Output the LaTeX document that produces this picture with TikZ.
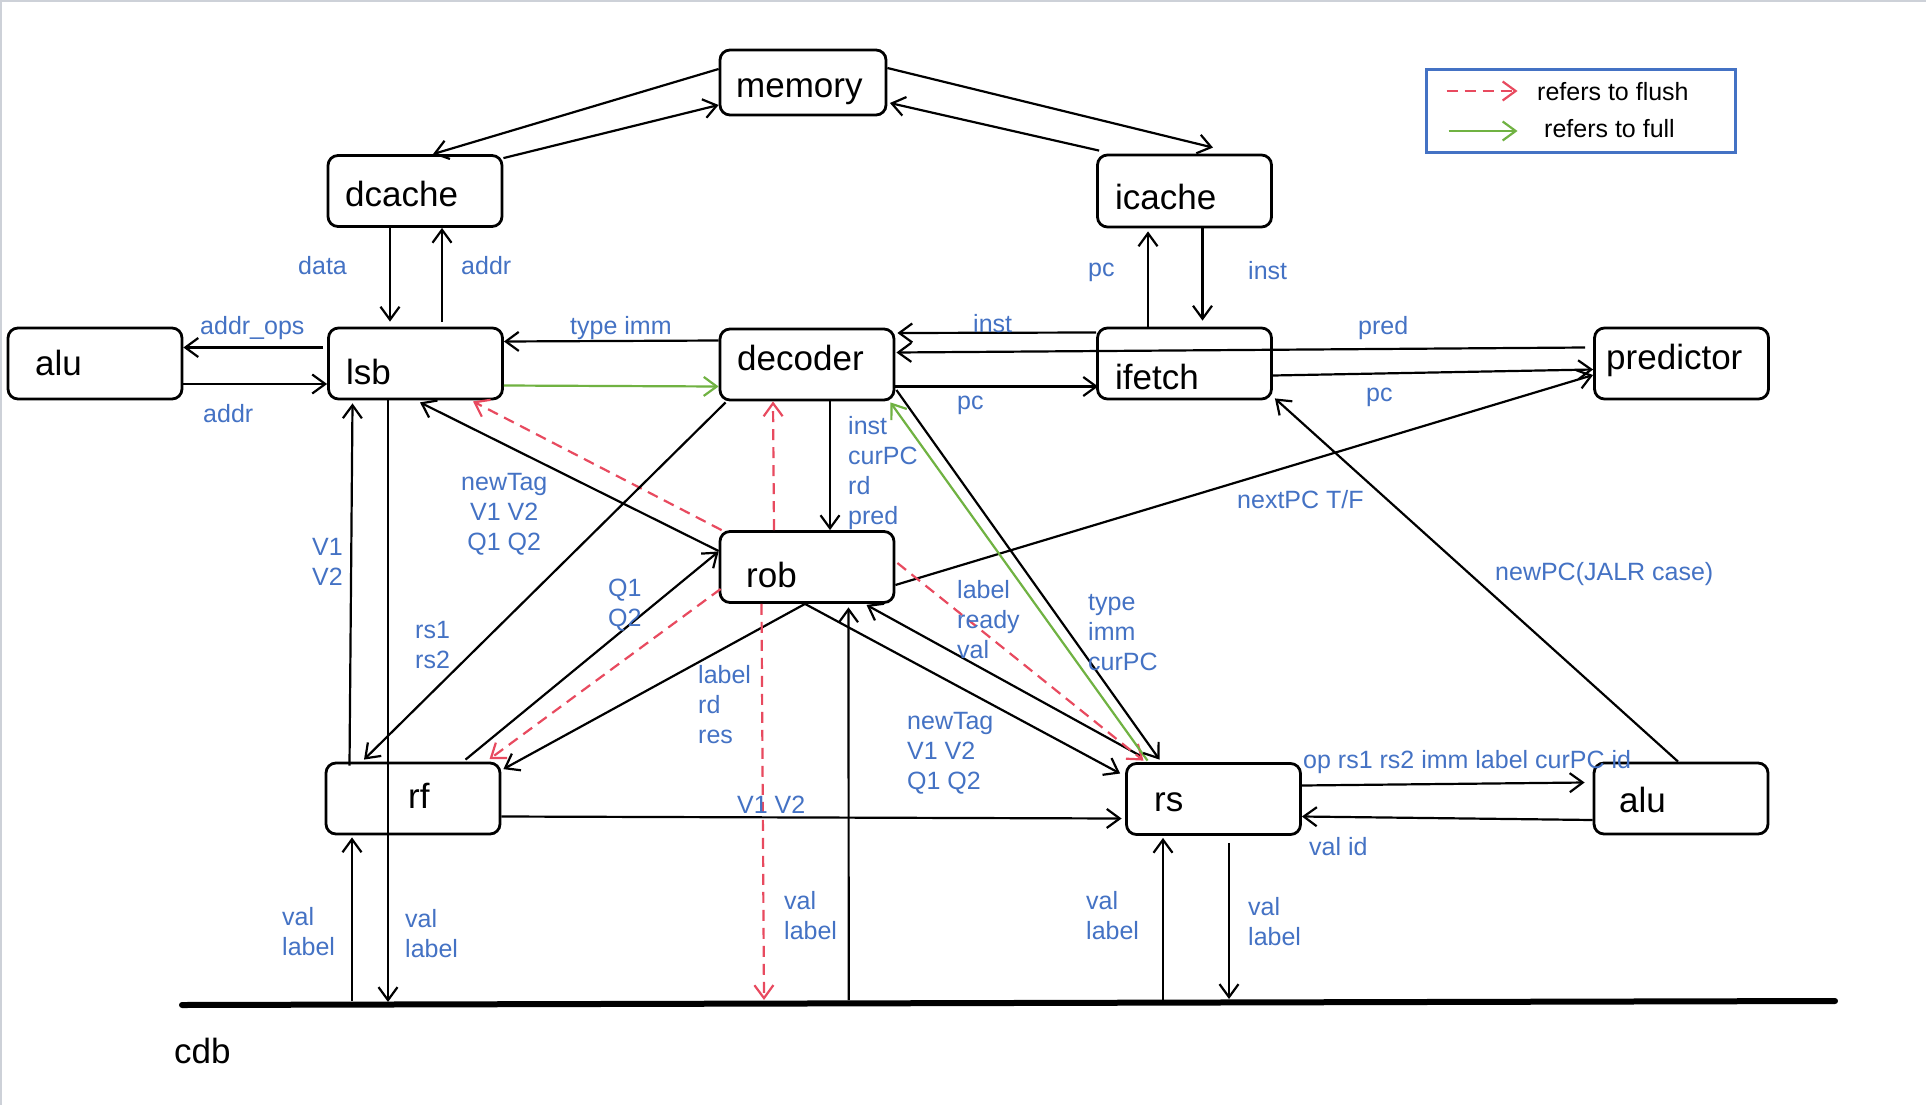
\documentclass[tikz,border=0pt]{standalone}
\usepackage{fontspec}
\setmainfont{Liberation Sans}
\usetikzlibrary{arrows.meta}
\definecolor{labblue}{RGB}{68,114,196}
\definecolor{flushred}{RGB}{232,74,95}
\definecolor{fullgreen}{RGB}{112,178,66}
\definecolor{framegray}{RGB}{205,209,216}
\tikzset{
  box/.style={draw, line width=2.8pt, rounded corners=10pt, minimum width=174pt, minimum height=71pt, inner sep=0pt},
  ntext/.style={font=\fontsize{35}{40}\selectfont, anchor=base west, inner sep=0pt},
  ltext/.style={font=\fontsize{25}{30}\selectfont, anchor=base west, inner sep=0pt},
  lab/.style={font=\fontsize{25}{30}\selectfont, text=labblue, anchor=west, inner sep=0pt, align=left},
  conn/.style={line width=2.2pt, -{Straight Barb[length=13pt,width=19pt]}},
  flush/.style={conn, draw=flushred, dash pattern=on 11pt off 7pt},
  full/.style={conn, draw=fullgreen},
}
\begin{document}
\begin{tikzpicture}[x=1pt,y=-1pt]
\useasboundingbox (0,0) rectangle (1926,1105);
\fill[white] (0,0) rectangle (1926,1105);
\draw[framegray, line width=2pt] (0,1) -- (1926,1);
\draw[framegray, line width=2pt] (1,0) -- (1,1105);

% boxes
\node[box, minimum width=166pt, minimum height=65pt] (memory) at (803,82.5) {};
\node[box] (dcache) at (415,191) {};
\node[box, minimum height=72pt] (icache) at (1184.5,191) {};
\node[box] (aluL) at (95,363.5) {};
\node[box] (lsb) at (415.5,363.5) {};
\node[box] (decoder) at (807,364.5) {};
\node[box] (ifetch) at (1184.5,363.5) {};
\node[box] (predictor) at (1681.5,363.5) {};
\node[box] (rob) at (807,567) {};
\node[box] (rf) at (413,798.5) {};
\node[box] (rs) at (1213.5,799) {};
\node[box] (aluR) at (1681,798.5) {};

% box texts
\node[ntext] (t-memory) at (736,98) {memory};
\node[ntext] (t-dcache) at (345,206) {dcache};
\node[ntext] (t-icache) at (1115,209) {icache};
\node[ntext] (t-aluL) at (35,375) {alu};
\node[ntext] (t-lsb) at (346,384) {lsb};
\node[ntext] (t-decoder) at (737,370) {decoder};
\node[ntext] (t-ifetch) at (1115,389) {ifetch};
\node[ntext] (t-predictor) at (1606,369) {predictor};
\node[ntext] (t-rob) at (746,587) {rob};
\node[ntext] (t-rf) at (408,808) {rf};
\node[ntext] (t-rs) at (1154,811) {rs};
\node[ntext] (t-aluR) at (1619,812) {alu};
\node[ntext] (t-cdb) at (174,1063) {cdb};

% legend
\node[draw=labblue, line width=3pt, minimum width=309pt, minimum height=83pt, inner sep=0pt] (legend) at (1581,111) {};
\draw[flush] ([xshift=-134.5pt,yshift=20pt]legend.center) -- ([xshift=-63.5pt,yshift=20pt]legend.center);
\draw[full] ([xshift=-132.5pt,yshift=-20pt]legend.center) -- ([xshift=-63.5pt,yshift=-20pt]legend.center);
\node[ltext] (lg1) at (1537,101) {refers to flush};
\node[ltext] (lg2) at (1544,137) {refers to full};

% cdb bus
\coordinate (cdbL) at (182,1005);
\coordinate (cdbR) at (1835,1001);
\draw[line width=6pt, line cap=round] (cdbL) -- (cdbR);
\coordinate (t-rf) at (352,1001);
\coordinate (t-lsb) at (388,1002);
\coordinate (t-robr) at (764,1000);
\coordinate (t-rob) at (848.7,1000);
\coordinate (t-rsin) at (1163,1000);
\coordinate (t-rsout) at (1229,999);

% memory links
\draw[conn] ([yshift=13.5pt]memory.west) -- ([xshift=18pt]dcache.north);
\draw[conn] ([yshift=-4pt]dcache.north east) -- ([yshift=-22.5pt]memory.west);
\draw[conn] ([yshift=14.5pt]memory.east) -- ([xshift=28.5pt,yshift=6pt]icache.north);
\draw[conn] ([xshift=3pt,yshift=3pt]icache.north west) -- ([xshift=2.5pt,yshift=-20.5pt]memory.east);

% dcache / lsb / alu
\draw[conn] ([xshift=-25pt]dcache.south) -- ([xshift=-25.5pt,yshift=5pt]lsb.north);
\draw[conn] ([xshift=26.5pt,yshift=5pt]lsb.north) -- ([xshift=27pt]dcache.south);
\draw[conn] ([xshift=-4pt,yshift=16pt]lsb.west) -- ([yshift=16pt]aluL.east);
\draw[conn] ([yshift=-20.5pt]aluL.east) -- ([yshift=-20.5pt]lsb.west);

% decoder / lsb / ifetch / predictor
\draw[conn] ([yshift=24pt]decoder.west) -- ([yshift=22pt]lsb.east);
\draw[full] ([yshift=-22pt]lsb.east) -- ([yshift=-22pt]decoder.west);
\draw[conn] ([yshift=31pt]ifetch.west) -- ([xshift=2pt,yshift=31.5pt]decoder.east);
\draw[conn] ([xshift=-8pt,yshift=16pt]predictor.west) -- ([xshift=1pt,yshift=12pt]decoder.east);
\draw[conn] ([yshift=-22pt]decoder.east) -- ([xshift=2pt,yshift=-23pt]ifetch.west);
\draw[conn] ([xshift=-36.5pt]ifetch.north) -- ([xshift=-36.5pt,yshift=-3pt]icache.south);
\draw[conn] ([xshift=18pt]icache.south) -- ([xshift=18pt,yshift=6pt]ifetch.north);
\draw[conn] ([yshift=-12pt]ifetch.east) -- ([yshift=-6pt]predictor.west);
\draw[conn] ([yshift=-18pt]rob.east) -- ([yshift=-11.5pt]predictor.west);
\draw[conn] ([xshift=-3pt]aluR.north) -- ([xshift=2pt,yshift=2pt]ifetch.south east);

% decoder / rob
\draw[conn] ([xshift=23pt]decoder.south) -- ([xshift=23pt]rob.north);
\draw[flush] ([xshift=-33pt]rob.north) -- ([xshift=-34pt]decoder.south);

% rob / lsb
\draw[conn] ([yshift=16pt]rob.west) -- ([xshift=4.5pt,yshift=-2pt]lsb.south);
\draw[flush] ([xshift=3pt]rob.north west) -- ([xshift=57.5pt,yshift=-1pt]lsb.south);

% rf links
\draw[conn] ([xshift=7pt,yshift=-1pt]decoder.south west) -- ([xshift=-49pt,yshift=2pt]rf.north);
\draw[conn] ([xshift=52.5pt,yshift=2pt]rf.north) -- ([yshift=15.5pt]rob.west);
\draw[flush] ([xshift=2pt,yshift=-22pt]rob.west) -- ([xshift=76.5pt,yshift=2.5pt]rf.north);
\draw[conn] ([xshift=-2pt]rob.south) -- ([xshift=2pt,yshift=-7.5pt]rf.north east);

% rs links
\draw[conn] ([xshift=-2pt]rob.south) -- ([xshift=-5pt,yshift=25.5pt]rs.west);
\draw[conn] ([xshift=-73.5pt,yshift=6.5pt]rs.north) -- ([xshift=59.5pt,yshift=-1pt]rob.south);
\draw[flush] ([xshift=2pt,yshift=4pt]rob.east) -- ([xshift=-70pt,yshift=1.5pt]rs.north);
\draw[full] ([xshift=-66pt,yshift=1.5pt]rs.north) -- ([xshift=-5pt,yshift=-1pt]decoder.south east);
\draw[conn] ([xshift=1pt,yshift=-25.5pt]decoder.east) -- ([xshift=-54pt,yshift=2.5pt]rs.north);
\draw[conn] ([yshift=-18pt]rf.east) -- ([xshift=-3.5pt,yshift=-19.5pt]rs.west);
\draw[conn] ([yshift=13.5pt]rs.east) -- ([xshift=-8pt,yshift=16pt]aluR.west);
\draw[conn] ([yshift=-21.5pt]aluR.west) -- ([yshift=-17.5pt]rs.east);

% bus taps
\draw[conn] (t-rf) -- ([xshift=-61pt,yshift=-2pt]rf.south);
\draw[conn] ([xshift=-27.5pt]lsb.south) -- (t-lsb);
\draw[conn] ([xshift=-63.5pt,yshift=-4pt]rf.north) -- ([xshift=-63pt,yshift=-3pt]lsb.south);
\draw[flush] ([xshift=-45.5pt]rob.south) -- (t-robr);
\draw[conn] (t-rob) -- ([xshift=41.5pt,yshift=-3.5pt]rob.south);
\draw[conn] (t-rsin) -- ([xshift=-50.5pt,yshift=-2pt]rs.south);
\draw[conn] ([xshift=15.5pt,yshift=-7pt]rs.south) -- (t-rsout);

% labels
\node[lab] (l-data) at (298,265.5) {data};
\node[lab] (l-addr1) at (461,265.5) {addr};
\node[lab] (l-addrops) at (200,328.5) {addr\_ops};
\node[lab] (l-addr2) at (203,414) {addr};
\node[lab] (l-typeimm) at (570,328.5) {type imm};
\node[lab] (l-inst1) at (973,323.5) {inst};
\node[lab] (l-pred) at (1358,328) {pred};
\node[lab] (l-pc1) at (957,405) {pc};
\node[lab] (l-pc2) at (1088,272.5) {pc};
\node[lab] (l-inst2) at (1248,270.5) {inst};
\node[lab] (l-pc3) at (1366,397) {pc};
\node[lab] (l-nextpc) at (1237,500) {nextPC T/F};
\node[lab] (l-newpc) at (1495,574) {newPC(JALR case)};
\node[lab] (l-decrob) at (848,473.5) {inst\\curPC\\rd\\pred};
\node[lab] (l-rs12) at (415,645) {rs1\\rs2};
\node[lab] (l-q12) at (608,605) {Q1\\Q2};
\node[lab] (l-lrr) at (698,705) {label\\rd\\res};
\node[lab] (l-nt2) at (907,753) {newTag\\V1 V2\\Q1 Q2};
\node[lab] (l-lrv) at (957,620) {label\\ready\\val};
\node[lab] (l-tic) at (1088,633) {type\\imm\\curPC};
\node[lab] (l-v12) at (737,804.5) {V1 V2};
\node[lab] (l-op) at (1303,762.5) {op rs1 rs2 imm label curPC id};
\node[lab] (l-valid) at (1309,846.5) {val id};
\node[lab] (l-vl1) at (282,932) {val\\label};
\node[lab] (l-vl2) at (405,934) {val\\label};
\node[lab] (l-v1v2) at (312,562) {V1\\V2};
\node[lab, align=center] (l-nt1) at (461,514) {newTag\\V1 V2\\Q1 Q2};
\node[lab] (l-vl3) at (784,916) {val\\label};
\node[lab] (l-vl4) at (1086,916) {val\\label};
\node[lab] (l-vl5) at (1248,922) {val\\label};
\end{tikzpicture}
\end{document}
